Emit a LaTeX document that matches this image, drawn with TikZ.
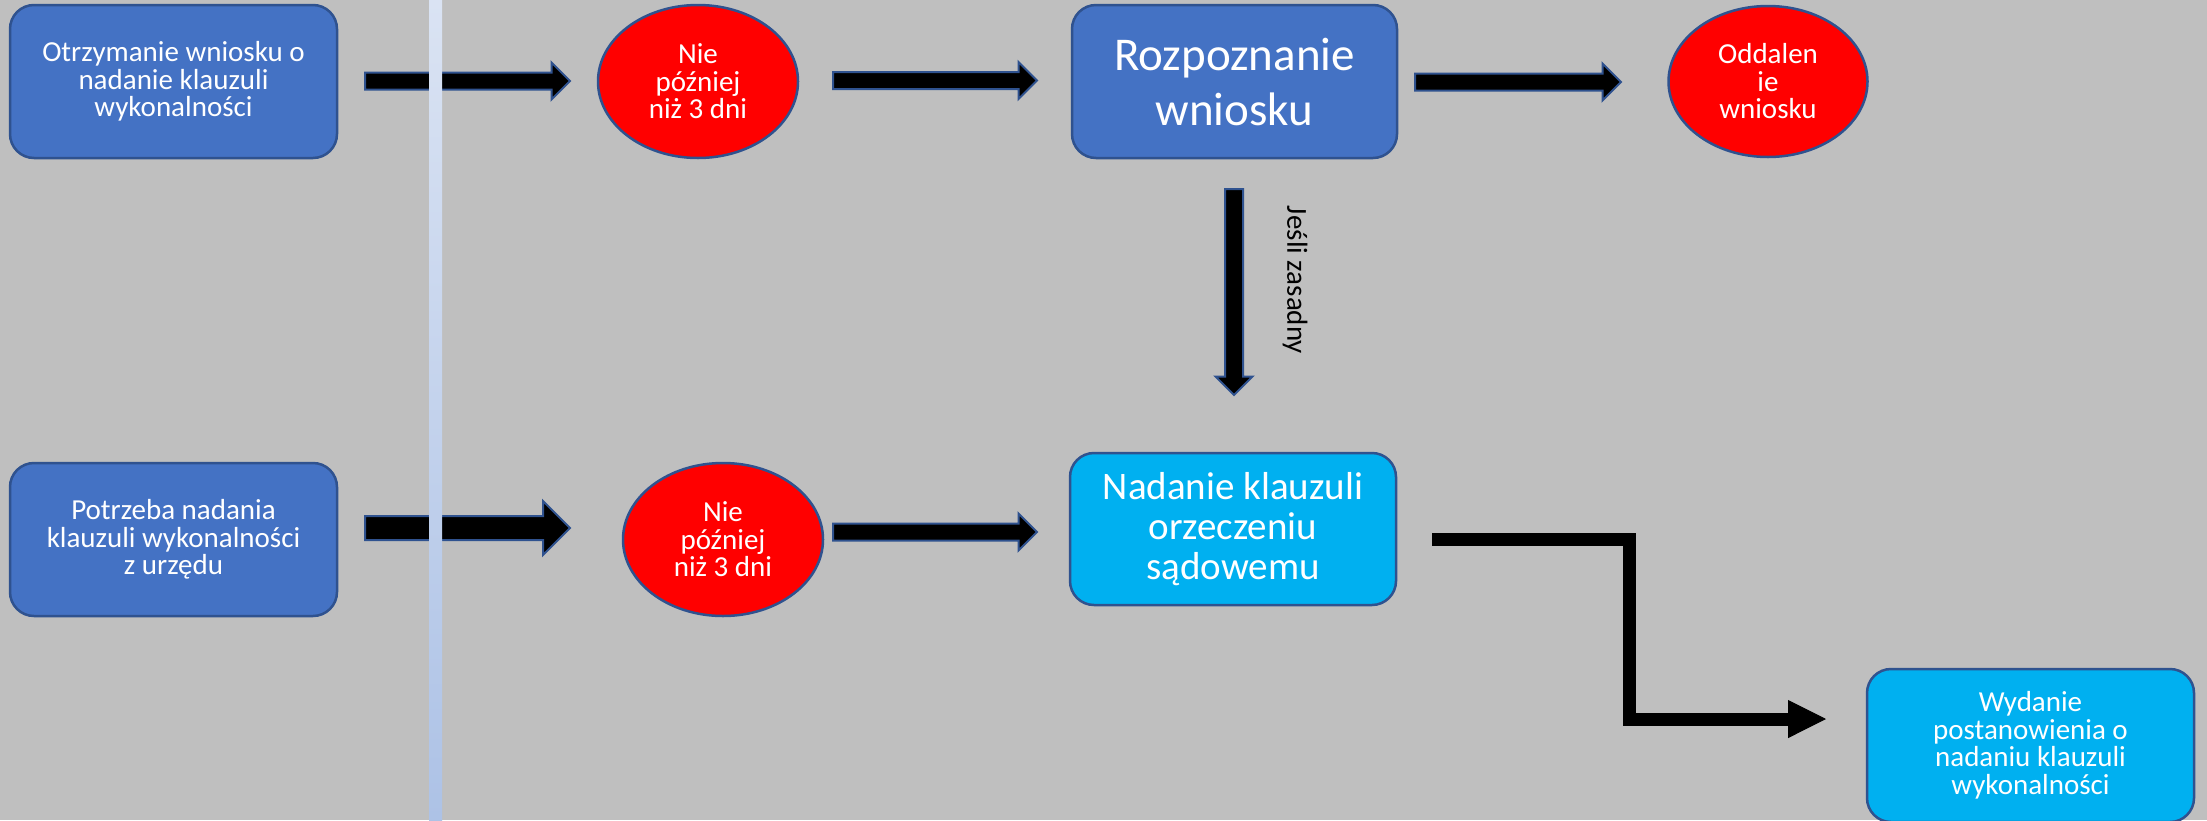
\documentclass[tikz,border=0pt]{standalone}
\usepackage{fontspec}
\setmainfont{Carlito}
\usetikzlibrary{shapes.geometric,arrows.meta}

\definecolor{canvasgray}{HTML}{BFBFBF}
\definecolor{procblue}{HTML}{4472C4}
\definecolor{edgeblue}{HTML}{2F528F}
\definecolor{skyblue}{HTML}{00B0F0}
\definecolor{stripetop}{HTML}{DAE3F3}
\definecolor{stripebot}{HTML}{ADC2E6}

\tikzset{
  box/.style={rectangle, rounded corners=24pt, draw=edgeblue, line width=2.5pt,
    fill=procblue, text=white, minimum width=327pt, minimum height=153pt,
    inner sep=0pt, align=center, font=\fontsize{29}{27.5}\selectfont},
  oval/.style={ellipse, draw=edgeblue, line width=2.5pt, fill=red, text=white,
    minimum width=200pt, minimum height=153pt, inner sep=0pt, align=center,
    font=\fontsize{29}{27.5}\selectfont},
  blockfill/.style={draw=edgeblue, line width=2pt, fill=black, line join=miter},
  elbow/.style={line width=13pt, line join=miter,
    -{Triangle[length=38pt, width=38pt, line width=1pt]}},
  pics/blockarrow/.style n args={3}{code={
    \path[blockfill] (0,{-#2/2}) -- ({#1-#3/2},{-#2/2}) -- ({#1-#3/2},{-#3/2})
      -- (#1,0) -- ({#1-#3/2},{#3/2}) -- ({#1-#3/2},{#2/2}) -- (0,{#2/2}) -- cycle;
  }},
}

\begin{document}
\begin{tikzpicture}[x=1pt, y=-1pt]
	\useasboundingbox (0,0) rectangle (2207,820);
	\fill[canvasgray] (0,0) rectangle (2207,820);

	% upper row
	\node[box] (otrzymanie) at (173.5,81.5) {Otrzymanie wniosku o\\nadanie klauzuli\\wykonalności};
	\node[oval] (termin1) at (698,81.5) {Nie\\później\\niż 3 dni};
	\node[box, minimum width=325pt, font=\fontsize{47}{55}\selectfont] (rozpoznanie) at (1234.5,81.5) {Rozpoznanie\\wniosku};
	\node[oval, minimum width=199pt, minimum height=151pt] (oddalenie) at (1768,81.5) {Oddalen\\ie\\wniosku};

	% lower row
	\node[box] (potrzeba) at (173.5,539.5) {Potrzeba nadania\\klauzuli wykonalności\\z urzędu};
	\node[oval] (termin2) at (723,539.5) {Nie\\później\\niż 3 dni};
	\node[box, fill=skyblue, minimum width=326pt, minimum height=152pt, font=\fontsize{39}{40}\selectfont] (nadanie) at (1233,529) {Nadanie klauzuli\\orzeczeniu\\sądowemu};
	\node[box, fill=skyblue] (wydanie) at (2030.5,745.5) {Wydanie\\postanowienia o\\nadaniu klauzuli\\wykonalności};

	% block arrows
	\pic (a1) at (365,81) {blockarrow={205}{17}{37}};
	\pic (a2) at (833,80.5) {blockarrow={204}{17}{37}};
	\pic (a3) at (1415,82) {blockarrow={206}{17}{37}};
	\pic (a4) at (365,528) {blockarrow={205}{24}{54}};
	\pic (a5) at (833,532) {blockarrow={204}{17}{37}};
	\pic[rotate=-90] (a6) at (1234,189) {blockarrow={206}{18}{37}};
	\node[rotate=-90, font=\fontsize{29}{29}\selectfont] (warunek) at (1295,280) {Jeśli zasadny};

	% elbow connector
	\coordinate (e1) at (1432,539.5);
	\coordinate (bend) at (1629.5,630);
	\coordinate (e2) at (1826,719);
	\draw[elbow] (e1) -| (bend) |- (e2);

	% vertical stripe
	\shade[top color=stripetop, bottom color=stripebot] (429,0) rectangle (442,820);
\end{tikzpicture}
\end{document}
